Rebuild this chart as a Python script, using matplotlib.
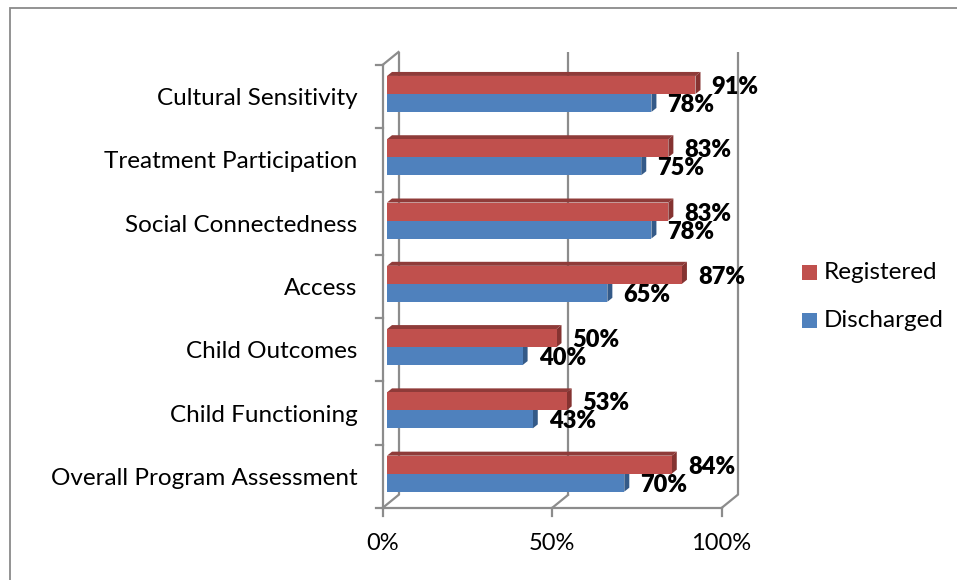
import matplotlib
matplotlib.use("Agg")
import matplotlib.pyplot as plt
from matplotlib.patches import Polygon, Rectangle

# ---- data (top to bottom as listed on the chart) ----
categories = ["Cultural Sensitivity", "Treatment Participation", "Social Connectedness",
              "Access", "Child Outcomes", "Child Functioning", "Overall Program Assessment"]
registered = [91, 83, 83, 87, 50, 53, 84]
discharged = [78, 75, 78, 65, 40, 43, 70]
series_names = ["Registered", "Discharged"]
x_ticks = [0, 50, 100]
x_tick_labels = ["0%", "50%", "100%"]

# ---- styling ----
W, H, DPI = 957, 580, 100
RED, RED_TOP, RED_END = "#C0504D", "#8F3B39", "#853331"
BLUE, BLUE_END = "#4F81BD", "#345A88"
GRID = "#8C8C8C"
FONT = ["Lato", "DejaVu Sans"]

plt.rcParams["font.family"] = FONT

fig = plt.figure(figsize=(W / DPI, H / DPI), dpi=DPI)
fig.patch.set_facecolor("white")

# outer chart-area border
fig.patches.append(Rectangle((9.5 / W, -0.1), 1.2, 1 - 8 / H + 0.1,
                             transform=fig.transFigure, fill=False,
                             edgecolor="#8A8A8A", linewidth=1.3))

# axes = the plane in which the bar front faces sit
left_px, right_px, top_px, bot_px = 387, 726, 61.3, 504.3
ax = fig.add_axes([left_px / W, 1 - bot_px / H, (right_px - left_px) / W, (bot_px - top_px) / H])
n = len(categories)
ax.set_xlim(0, 100)
ax.set_ylim(-0.5, n - 0.5)
ax.axis("off")

ppx = (right_px - left_px) / 100.0      # pixels per x unit
ppy = (bot_px - top_px) / n             # pixels per category


def shift(dx_px, dy_px):
    return dx_px / ppx, dy_px / ppy


fdx, fdy = shift(-4.5, -3.7)   # front plane of the 3-D box
bdx, bdy = shift(11.5, 9.3)    # back wall
ddx, ddy = shift(5.0, 4.0)     # bar depth

lw = 1.6
ylo, yhi = -0.5, n - 0.5

# back wall gridlines
for t in x_ticks:
    ax.plot([t + bdx, t + bdx], [ylo + bdy, yhi + bdy], color=GRID, lw=lw,
            solid_capstyle="butt", clip_on=False, zorder=1)
# floor diagonals
for t in x_ticks:
    ax.plot([t + fdx, t + bdx], [ylo + fdy, ylo + bdy], color=GRID, lw=lw,
            clip_on=False, zorder=1)
# top-left diagonal of the side wall
ax.plot([fdx, bdx], [yhi + fdy, yhi + bdy], color=GRID, lw=lw, clip_on=False, zorder=1)
# front vertical axis and floor edge
ax.plot([fdx, fdx], [ylo + fdy, yhi + fdy], color=GRID, lw=lw, clip_on=False, zorder=1)
ax.plot([fdx, 100 + fdx], [ylo + fdy, ylo + fdy], color=GRID, lw=lw, clip_on=False, zorder=1)
# tick marks
tk_x, _ = shift(-7, 0)
_, tk_y = shift(0, -8)
for i in range(n + 1):
    yy = ylo + i + fdy
    ax.plot([fdx + tk_x, fdx], [yy, yy], color=GRID, lw=lw, clip_on=False, zorder=1)
for t in x_ticks:
    ax.plot([t + fdx, t + fdx], [ylo + fdy, ylo + fdy + tk_y], color=GRID, lw=lw,
            clip_on=False, zorder=1)

# tick labels
lab_dx, _ = shift(-25, 0)
for i, name in enumerate(categories):
    yc = n - 1 - i
    ax.text(fdx + lab_dx, yc + fdy - 2 / ppy, name, ha="right", va="center",
            fontsize=17.5, color="black", clip_on=False)
_, xl_dy = shift(0, -35)
for t, s in zip(x_ticks, x_tick_labels):
    ax.text(t + fdx, ylo + fdy + xl_dy, s, ha="center", va="center",
            fontsize=17, color="black", clip_on=False)

# bars
split = -1 / ppy
bh = 18 / ppy
for i in range(n):
    yc = n - 1 - i
    r, b = registered[i], discharged[i]
    r_bot, r_top = yc + split, yc + split + bh
    b_bot, b_top = yc + split - bh, yc + split

    # discharged (blue) bar: front face and end face
    ax.barh(b_bot, b, height=bh, align="edge", color=BLUE, zorder=3, linewidth=0)
    ax.add_patch(Polygon([(b, b_bot), (b, b_top), (b + ddx, b_top + ddy), (b + ddx, b_bot + ddy)],
                         closed=True, facecolor=BLUE_END, edgecolor="none", zorder=2))
    # registered (red) bar: front, top and end faces
    ax.barh(r_bot, r, height=bh, align="edge", color=RED, zorder=5, linewidth=0)
    ax.add_patch(Polygon([(0, r_top), (r, r_top), (r + ddx, r_top + ddy), (ddx, r_top + ddy)],
                         closed=True, facecolor=RED_TOP, edgecolor="none", zorder=4))
    ax.add_patch(Polygon([(r, r_bot), (r, r_top), (r + ddx, r_top + ddy), (r + ddx, r_bot + ddy)],
                         closed=True, facecolor=RED_END, edgecolor="none", zorder=4))

    # value labels
    for v, y0 in ((r, r_bot + bh / 2), (b, b_bot + bh / 2)):
        ax.annotate(f"{v}%", xy=(v, y0), xytext=(16 * 72 / DPI, -2 * 72 / DPI),
                    textcoords="offset points", ha="left", va="center",
                    fontsize=17, fontweight="heavy", color="black",
                    annotation_clip=False, zorder=6)

# legend
for (name, col, yc) in ((series_names[0], RED, 272.5), (series_names[1], BLUE, 320.5)):
    fig.patches.append(Rectangle((802 / W, 1 - (yc + 7.5) / H), 15 / W, 15 / H,
                                 transform=fig.transFigure, facecolor=col, edgecolor="none"))
    fig.text(824 / W, 1 - yc / H, name, ha="left", va="center", fontsize=17.5, color="black")

fig.savefig("out.png", dpi=DPI, facecolor="white")
